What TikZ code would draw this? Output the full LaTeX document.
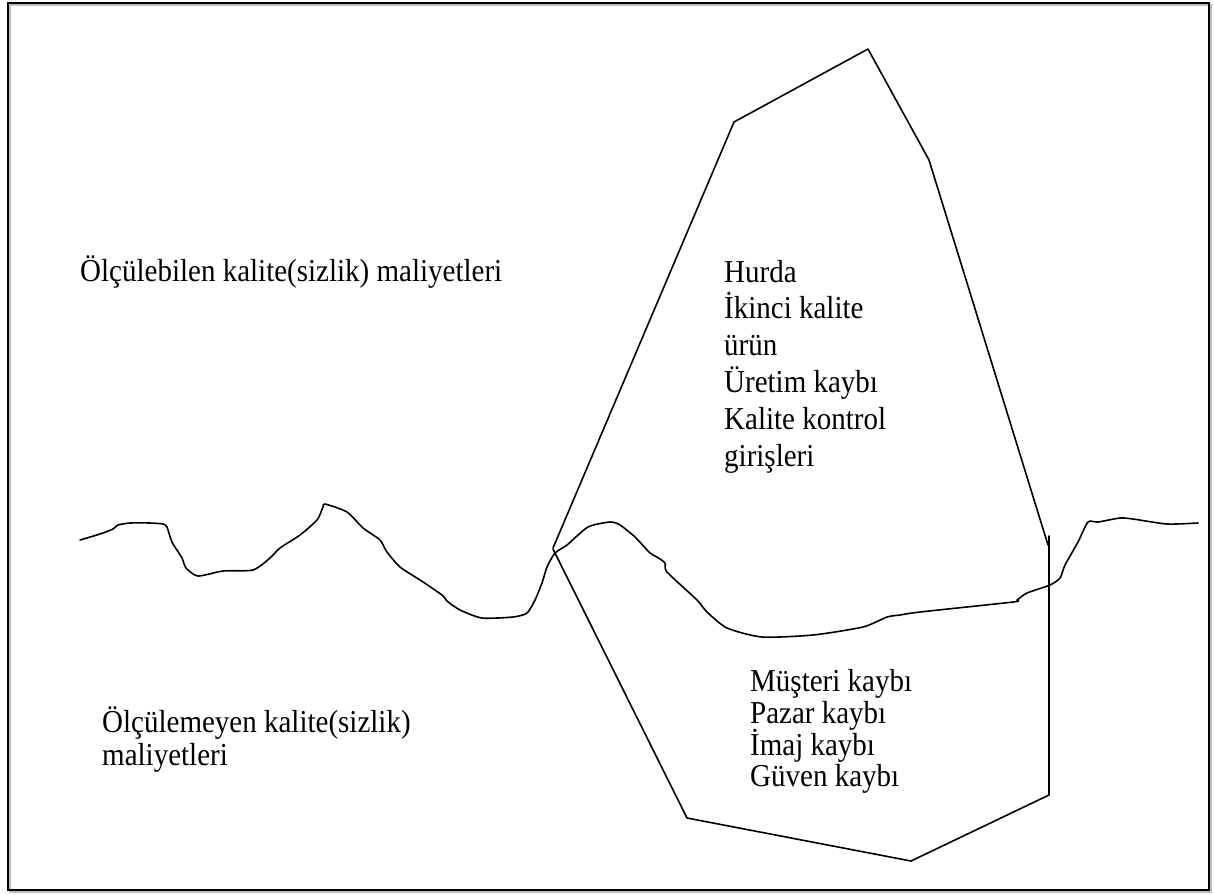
\documentclass[tikz,border=0pt]{standalone}
\usepackage{fontspec}
\setmainfont{Liberation Serif}
\newcommand{\tall}[1]{\scalebox{1}[1.1]{#1}}
\begin{document}
\begin{tikzpicture}[x=1pt,y=-1pt,
  lbl/.style={anchor=base west,inner sep=0pt,font=\fontsize{29}{37}\selectfont},
  curve/.style={line width=1.6pt,line join=round,line cap=round}]
\useasboundingbox (0,0) rectangle (1214,894);
\draw[gray!50,line width=1.5pt] (10,5) rectangle (1211,892);
\draw[line width=2pt] (8,3) rectangle (1209,890);
% upper polygon
\draw[curve] (553,548) -- (734,122) -- (868,49) -- (929,160) -- (1048,545);
% lower polygon
\draw[curve] (553,549) -- (687,818) -- (911,861) -- (1049,795);
\draw[curve] (1049,536) -- (1049,795);
% wavy line
\draw[curve] plot[smooth,tension=0.4] coordinates {
(80,540) (100,534) (113,529) (118,525) (130,523) (150,523) (163,524) (167,527)
(172,542) (182,558) (186,568) (198,576) (223,571) (253,570) (270,558) (280,548)
(300,535) (317,520) (323,507) (325,504) (347,512) (363,528) (380,540) (387,552)
(400,567) (420,580) (442,595) (447,601) (460,610) (482,618) (513,617) (527,613)
(535,600) (542,583) (547,567) (555,553) (567,545) (588,527) (610,522) (620,525)
(635,537) (650,553) (657,557) (665,563) (667,572) (697,600) (707,612) (727,628)
(762,637) (813,635) (863,627) (887,617) (900,615) (920,612) (1013,602) (1017,600)
(1027,593) (1050,585) (1060,578) (1065,565) (1078,542) (1088,522) (1098,522)
(1120,518) (1133,519) (1167,524) (1198,523)};
% texts
\node[lbl] (olc) at (80,281) {\tall{Ölçülebilen kalite(sizlik) maliyetleri}};
\node[lbl] (u1) at (724,282) {\tall{Hurda}};
\node[lbl] (u2) at (724,318) {\tall{İkinci kalite}};
\node[lbl] (u3) at (724,355) {\tall{ürün}};
\node[lbl] (u4) at (724,392) {\tall{Üretim kaybı}};
\node[lbl] (u5) at (724,429) {\tall{Kalite kontrol}};
\node[lbl] (u6) at (724,466) {\tall{girişleri}};
\node[lbl] (l1) at (750,691) {\tall{Müşteri kaybı}};
\node[lbl] (l2) at (750,723) {\tall{Pazar kaybı}};
\node[lbl] (l3) at (750,755) {\tall{İmaj kaybı}};
\node[lbl] (l4) at (750,786) {\tall{Güven kaybı}};
\node[lbl] (olm1) at (102,732) {\tall{Ölçülemeyen kalite(sizlik)}};
\node[lbl] (olm2) at (102,765) {\tall{maliyetleri}};
\end{tikzpicture}
\end{document}
